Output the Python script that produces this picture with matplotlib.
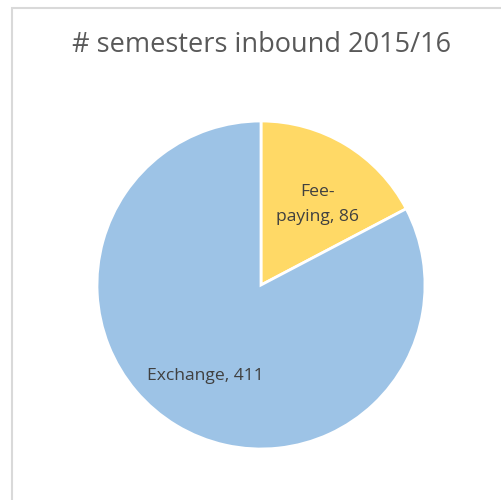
import numpy as np
import matplotlib.pyplot as plt
from matplotlib.patches import Rectangle

title = '# semesters inbound 2015/16'
categories = ['Fee-\npaying', 'Exchange']
values = [86, 411]
colors = ['#FFD966', '#9DC3E6']

labels = [f'{c}, {v}' for c, v in zip(categories, values)]

W, H = 501, 500
fig = plt.figure(figsize=(W / 100, H / 100), dpi=100)

# chart border (right and bottom sides run off the image)
fig.patches.append(Rectangle((12 / W, -0.1), 1.2, 1 - 8 / H + 0.1,
                             transform=fig.transFigure, fill=False,
                             edgecolor='#D9D9D9', linewidth=1.5))

cx, cy, r = 261, 285, 164
ax = fig.add_axes([(cx - r) / W, (H - cy - r) / H, 2 * r / W, 2 * r / H])
wedges, texts = ax.pie(values, labels=labels, colors=colors, startangle=90,
                       counterclock=False, radius=1, labeldistance=0.65,
                       wedgeprops=dict(edgecolor='white', linewidth=2),
                       textprops=dict(ha='center', va='center', color='#404040',
                                      fontsize=12.6, family='Open Sans',
                                      linespacing=1.75))
# two-line label sits a bit closer to the centre
w = wedges[0]
mid = np.deg2rad((w.theta1 + w.theta2) / 2 - 4)
texts[0].set_position((0.6 * np.cos(mid), 0.6 * np.sin(mid)))

ax.set_xlim(-1, 1)
ax.set_ylim(-1, 1)
ax.set_aspect('equal')
ax.axis('off')

fig.text(261 / W, 1 - 45 / H, title, ha='center', va='center',
         fontsize=19.5, color='#595959', family='Open Sans')

fig.savefig('out.png', dpi=100)
